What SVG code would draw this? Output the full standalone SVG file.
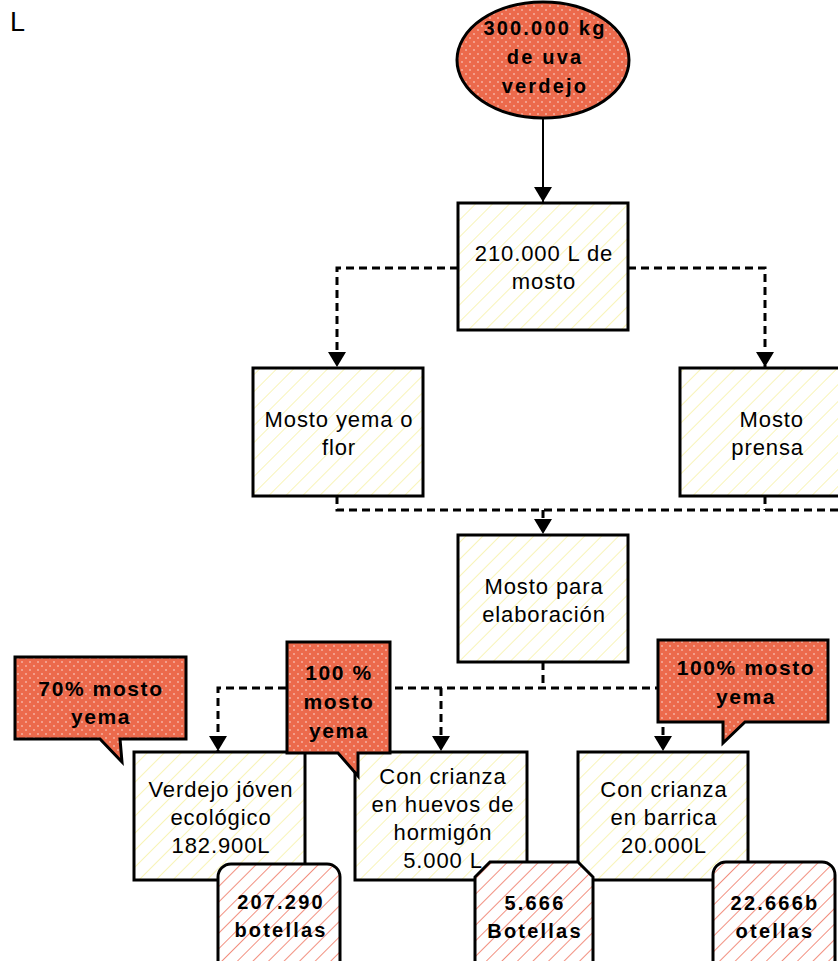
<svg xmlns="http://www.w3.org/2000/svg" width="838" height="961" viewBox="0 0 838 961">
  <defs>
    <pattern id="hatchYellow" width="12" height="12" patternUnits="userSpaceOnUse" patternTransform="rotate(45)">
      <rect width="12" height="12" fill="#ffffff"/>
      <line x1="0" y1="0" x2="0" y2="12" stroke="#f8f4b8" stroke-width="2"/>
    </pattern>
    <pattern id="hatchRed" width="11" height="11" patternUnits="userSpaceOnUse" patternTransform="rotate(45)">
      <rect width="11" height="11" fill="#ffffff"/>
      <line x1="0" y1="0" x2="0" y2="11" stroke="#f29080" stroke-width="2"/>
    </pattern>
    <pattern id="dots" width="8" height="8" patternUnits="userSpaceOnUse">
      <rect width="8" height="8" fill="#ec6a4c"/>
      <circle cx="2" cy="2" r="1" fill="#f6b0a0"/>
      <circle cx="6" cy="6" r="1" fill="#f6b0a0"/>
    </pattern>
    <marker id="arrow" viewBox="0 0 15 18" refX="15" refY="9" markerWidth="15" markerHeight="18" markerUnits="userSpaceOnUse" orient="auto">
      <path d="M0,0 L15,9 L0,18 Z" fill="#000"/>
    </marker>
  </defs>
  <style>
    .box { fill: url(#hatchYellow); stroke: #000; stroke-width: 3; }
    .callout { fill: url(#dots); stroke: #000; stroke-width: 3; stroke-linejoin: miter; }
    .badge { fill: url(#hatchRed); stroke: #000; stroke-width: 3; }
    .t { font-family: "Liberation Sans", Arial, sans-serif; font-size: 22px; letter-spacing: 0.9px; fill: #000; text-anchor: middle; }
    .b { font-family: "Liberation Sans", Arial, sans-serif; font-size: 20px; letter-spacing: 2.2px; font-weight: bold; fill: #000; text-anchor: middle; }
    .bc { font-family: "Liberation Sans", Arial, sans-serif; font-size: 21px; letter-spacing: 1.6px; font-weight: bold; fill: #000; text-anchor: middle; }
    .dash { fill: none; stroke: #000; stroke-width: 3; stroke-dasharray: 8 5; }
    .solid { fill: none; stroke: #000; stroke-width: 2; }
  </style>

  <text x="10" y="31" font-family="Liberation Sans, Arial, sans-serif" font-size="27" fill="#000">L</text>

  <!-- connectors -->
  <g id="connectors">
    <line class="solid" x1="543" y1="118" x2="543" y2="202" marker-end="url(#arrow)"/>
    <polyline class="dash" points="458,268 337,268 337,367" marker-end="url(#arrow)"/>
    <polyline class="dash" points="628,268 765,268 765,367" marker-end="url(#arrow)"/>
    <polyline class="dash" points="337,496 337,510 838,510"/>
    <line class="dash" x1="765" y1="496" x2="765" y2="510"/>
    <line class="dash" x1="543" y1="510" x2="543" y2="534" marker-end="url(#arrow)"/>
    <line class="dash" x1="543" y1="662" x2="543" y2="688"/>
    <polyline class="dash" points="663,688 218,688 218,751" marker-end="url(#arrow)"/>
    <line class="dash" x1="441" y1="688" x2="441" y2="751" marker-end="url(#arrow)"/>
    <line class="dash" x1="663" y1="688" x2="663" y2="751" marker-end="url(#arrow)"/>
  </g>

  <g id="uva">
    <ellipse cx="543" cy="60" rx="86" ry="58" fill="url(#dots)" stroke="#000" stroke-width="3"/>
    <text x="545" y="35" class="b">300.000 kg</text>
    <text x="545" y="64" class="b">de uva</text>
    <text x="545" y="93" class="b">verdejo</text>
  </g>

  <g id="mosto">
    <rect class="box" x="458" y="203" width="170" height="127"/>
    <text x="544" y="261" class="t">210.000 L de</text>
    <text x="544" y="289" class="t">mosto</text>
  </g>

  <g id="yema">
    <rect class="box" x="253" y="368" width="170" height="128"/>
    <text x="339" y="427" class="t">Mosto yema o</text>
    <text x="339" y="455" class="t">flor</text>
  </g>

  <g id="prensa">
    <rect class="box" x="680" y="368" width="170" height="128"/>
    <text x="804" y="427" class="t" style="text-anchor:end">Mosto</text>
    <text x="804" y="455" class="t" style="text-anchor:end">prensa</text>
  </g>

  <g id="elaboracion">
    <rect class="box" x="458" y="535" width="170" height="127"/>
    <text x="544" y="594" class="t">Mosto para</text>
    <text x="544" y="622" class="t">elaboración</text>
  </g>

  <g id="joven">
    <rect class="box" x="134" y="752" width="171" height="128"/>
    <text x="221" y="797" class="t">Verdejo jóven</text>
    <text x="221" y="825" class="t">ecológico</text>
    <text x="221" y="853" class="t">182.900L</text>
  </g>

  <g id="hormigon">
    <rect class="box" x="355" y="752" width="172" height="128"/>
    <text x="443" y="784" class="t">Con crianza</text>
    <text x="443" y="812" class="t">en huevos de</text>
    <text x="443" y="840" class="t">hormigón</text>
    <text x="443" y="868" class="t">5.000 L</text>
  </g>

  <g id="barrica">
    <rect class="box" x="578" y="752" width="170" height="128"/>
    <text x="664" y="797" class="t">Con crianza</text>
    <text x="664" y="825" class="t">en barrica</text>
    <text x="664" y="853" class="t">20.000L</text>
  </g>

  <g id="nota-70">
    <path class="callout" d="M15,657 H186 V739 H120 L122,762 L100,739 H15 Z"/>
    <text x="101" y="696" class="bc">70% mosto</text>
    <text x="101" y="724" class="bc">yema</text>
  </g>

  <g id="nota-100a">
    <path class="callout" d="M287,642 H390 V753 H358 V776 L338,753 H287 Z"/>
    <text x="339" y="680" class="bc">100 %</text>
    <text x="339" y="709" class="bc">mosto</text>
    <text x="339" y="738" class="bc">yema</text>
  </g>

  <g id="nota-100b">
    <path class="callout" d="M658,640 H828 V722 H745 L723,743 V722 H658 Z"/>
    <text x="746" y="675" class="bc">100% mosto</text>
    <text x="746" y="704" class="bc">yema</text>
  </g>

  <g id="botellas-joven">
    <rect class="badge" x="218" y="864" width="122" height="115" rx="13"/>
    <text x="281" y="909" class="b">207.290</text>
    <text x="281" y="937" class="b">botellas</text>
  </g>

  <g id="botellas-hormigon">
    <path class="badge" d="M490,862 H578 L593,877 V980 H475 V877 Z"/>
    <text x="535" y="910" class="b">5.666</text>
    <text x="535" y="938" class="b">Botellas</text>
  </g>

  <g id="botellas-barrica">
    <rect class="badge" x="713" y="862" width="122" height="117" rx="13"/>
    <text x="775" y="910" class="b">22.666b</text>
    <text x="775" y="938" class="b">otellas</text>
  </g>
</svg>
